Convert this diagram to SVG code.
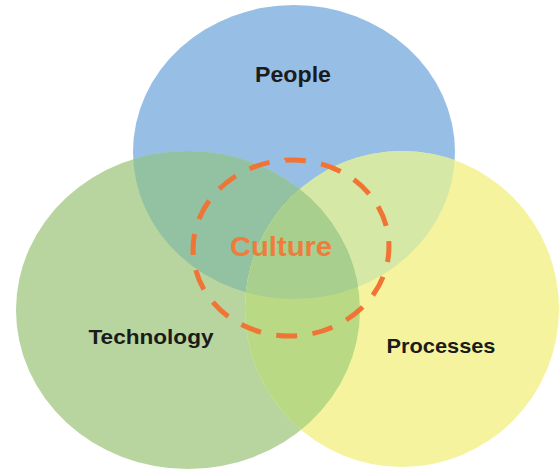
<svg xmlns="http://www.w3.org/2000/svg" width="559" height="469" viewBox="0 0 559 469">
  <defs>
    <ellipse id="shape-people" cx="294" cy="152" rx="161" ry="147"/>
    <ellipse id="shape-technology" cx="188" cy="310" rx="172" ry="159"/>
    <ellipse id="shape-processes" cx="402" cy="309" rx="157" ry="158"/>
    <clipPath id="clip-people"><use href="#shape-people"/></clipPath>
    <clipPath id="clip-technology"><use href="#shape-technology"/></clipPath>
    <style>
      .label { font-family: "Liberation Sans", Arial, sans-serif; font-weight: bold; text-anchor: middle; fill: #1b1b1b; }
      .culture { font-family: "Liberation Sans", Arial, sans-serif; font-weight: bold; text-anchor: middle; fill: #ee7d3c; }
      .ring { fill: none; stroke: #f07436; stroke-width: 5; stroke-dasharray: 11.5 8.5; stroke-linecap: butt; }
    </style>
  </defs>
  <rect width="559" height="469" fill="#ffffff"/>

  <!-- People -->
  <g id="node-people">
    <use href="#shape-people" fill="#97bfe5"/>
  </g>

  <!-- Technology -->
  <g id="node-technology">
    <use href="#shape-technology" fill="#b8d59f"/>
    <!-- overlap with People -->
    <g clip-path="url(#clip-people)">
      <use href="#shape-technology" fill="#92c2a2"/>
    </g>
  </g>

  <!-- Processes -->
  <g id="node-processes">
    <use href="#shape-processes" fill="#f6f39e"/>
    <!-- overlap with People -->
    <g clip-path="url(#clip-people)">
      <use href="#shape-processes" fill="#d6e8a6"/>
    </g>
    <!-- overlap with Technology -->
    <g clip-path="url(#clip-technology)">
      <use href="#shape-processes" fill="#bad985"/>
    </g>
    <!-- overlap with all three -->
    <g clip-path="url(#clip-people)">
      <g clip-path="url(#clip-technology)">
        <use href="#shape-processes" fill="#a9cf8e"/>
      </g>
    </g>
  </g>

  <g id="labels">
    <text class="label" x="293" y="82" font-size="22" textLength="76" lengthAdjust="spacingAndGlyphs">People</text>
    <text class="label" x="151" y="344" font-size="21" textLength="125" lengthAdjust="spacingAndGlyphs">Technology</text>
    <text class="label" x="441" y="353" font-size="21" textLength="109" lengthAdjust="spacingAndGlyphs">Processes</text>
  </g>

  <!-- Culture: dashed ring across the overlaps -->
  <g id="node-culture">
    <ellipse class="ring" cx="291" cy="248" rx="98" ry="88" pathLength="320" transform="rotate(-4 291 248)"/>
    <text class="culture" x="281" y="256" font-size="28" textLength="102" lengthAdjust="spacingAndGlyphs">Culture</text>
  </g>

  <g id="connectors"/>
</svg>
